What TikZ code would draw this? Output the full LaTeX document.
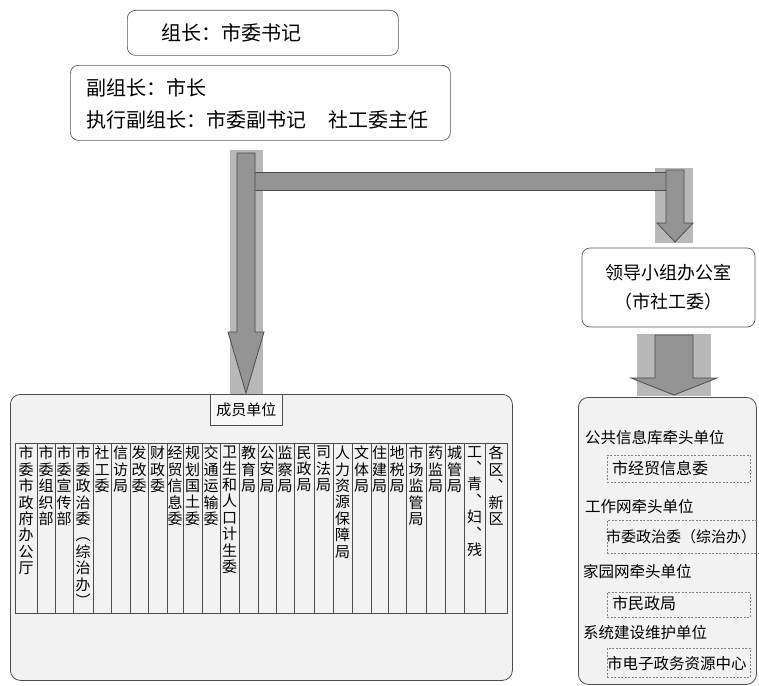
\documentclass[tikz,border=0pt]{standalone}
\usepackage{fontspec}
\setmainfont{Noto Sans CJK SC}
\makeatletter
\newcommand\vtxt[1]{\vbox{\baselineskip=16.4pt\lineskiplimit=-10pt\@tfor\vch:=#1\do{\hbox to 16pt{\hss\vch\hss}}}}
\makeatother
\tikzset{
  rbox/.style={draw=black!65, line width=0.7pt, rounded corners=8pt},
  bigbox/.style={draw=black!70, line width=0.8pt, rounded corners=10pt, fill=black!5},
  dbox/.style={draw=black!50, line width=0.5pt, dash pattern=on 2pt off 1.5pt},
  grid/.style={draw=black!70, line width=0.7pt},
  band/.style={fill=black!28},
  barrow/.style={fill=black!42, draw=black!70, line width=0.8pt, line join=miter},
  txt/.style={text=black, inner sep=0pt},
  vt/.style={txt, anchor=north, font=\fontsize{15}{16}\selectfont},
  lab/.style={txt, anchor=west, font=\fontsize{15.5}{18}\selectfont},
}
\begin{document}
\begin{tikzpicture}[x=1pt, y=-1pt]
\useasboundingbox (0,0) rectangle (759,685);

% leaders
\node[rbox, anchor=north west, minimum width=271pt, minimum height=45pt] (lead1) at (127,10) {};
\node[txt, anchor=west, font=\fontsize{20}{24}\selectfont] (t1) at (161,33) {组长：市委书记};
\node[rbox, anchor=north west, minimum width=380pt, minimum height=75pt] (lead2) at (70,65) {};
\node[txt, anchor=west, font=\fontsize{20}{24}\selectfont] (t2) at (86,88) {副组长：市长};
\node[txt, anchor=west, font=\fontsize{20}{24}\selectfont] (t3) at (86,120) {执行副组长：市委副书记\hspace{1.1em}社工委主任};

% office
\node[rbox, minimum width=173pt, minimum height=79pt, align=center, font=\fontsize{18}{29}\selectfont, text=black] (office) at (668.5,287.5) {领导小组办公室\\（市社工委）};

% member units box
\node[bigbox, anchor=north west, minimum width=502pt, minimum height=286pt] (members) at (10,394) {};
\node[draw=black!70, line width=0.7pt, fill=black!3, anchor=north west, minimum width=72pt, minimum height=31pt, font=\fontsize{15}{18}\selectfont, text=black] (mlabel) at (210,394) {成员单位};
\draw[grid] (15,443) rectangle (507,613);
\foreach \xa/\xb/\tx [count=\i] in {
 15/37/市委市政府办公厅, 37/55/市委组织部, 55/73/市委宣传部, 73/93/市委政治委︵综治办︶,
 93/111/社工委, 111/130/信访局, 130/148/发改委, 148/167/财政委, 167/183/经贸信息委,
 183/202/规划国土委, 202/220/交通运输委, 220/239/卫生和人口计生委, 239/258/教育局,
 258/276/公安局, 276/294/监察局, 294/314/民政局, 314/333/司法局, 333/352/人力资源保障局,
 352/371/文体局, 371/388/住建局, 388/406/地税局, 406/426/市场监管局, 426/445/药监局,
 445/464/城管局, 464/485/工︑青︑妇︑残, 485/507/各区︑新区}{
  \ifnum\i>1 \draw[grid] (\xa,443) -- (\xa,613);\fi
  \node[vt] (n\i) at ({(\xa+\xb)/2},446) {\expandafter\vtxt\expandafter{\tx}};
}

% right box
\node[bigbox, anchor=north west, minimum width=178pt, minimum height=287pt] (right) at (578,397) {};
\node[lab] (r1) at (585,438) {公共信息库牵头单位};
\node[dbox, anchor=north west, minimum width=143pt, minimum height=27pt] (b1) at (607,455) {};
\node[txt, anchor=west, font=\fontsize{16}{18}\selectfont] (b1t) at (612,468.5) {市经贸信息委};
\node[lab] (r2) at (585,507) {工作网牵头单位};
\node[dbox, anchor=north west, minimum width=153pt, minimum height=33pt] (b2) at (607,520) {};
\node[txt, anchor=west, font=\fontsize{15}{18}\selectfont] (b2t) at (606,537) {市委政治委（综治办）};
\node[lab] (r3) at (583,572) {家园网牵头单位};
\node[dbox, anchor=north west, minimum width=143pt, minimum height=25pt] (b3) at (607,592) {};
\node[txt, anchor=west, font=\fontsize{16}{18}\selectfont] (b3t) at (612,603) {市民政局};
\node[lab] (r4) at (583,633) {系统建设维护单位};
\node[dbox, anchor=north west, minimum width=143pt, minimum height=29pt] (b4) at (607,648) {};
\node[txt, anchor=west, font=\fontsize{15.5}{18}\selectfont] (b4t) at (607,664) {市电子政务资源中心};

% block arrows
\fill[band] (230,150) rectangle (263,394);
\fill[band] (655,168) rectangle (693,243);
\fill[band] (637,334) rectangle (711,396);
\fill[black!42] (255,172) rectangle (666,190);
\draw[black!70, line width=0.8pt] (255,172) -- (666,172) (255,190) -- (666,190);
\draw[barrow] (237,153) -- (255,153) -- (255,332) -- (264,332) -- (246,393) -- (228,332) -- (237,332) -- cycle;
\draw[barrow] (666,170) -- (684,170) -- (684,223) -- (693,223) -- (675,242) -- (657,223) -- (666,223) -- cycle;
\draw[barrow] (655,335) -- (693,335) -- (693,378) -- (717,378) -- (674,395) -- (631,378) -- (655,378) -- cycle;
\end{tikzpicture}
\end{document}
